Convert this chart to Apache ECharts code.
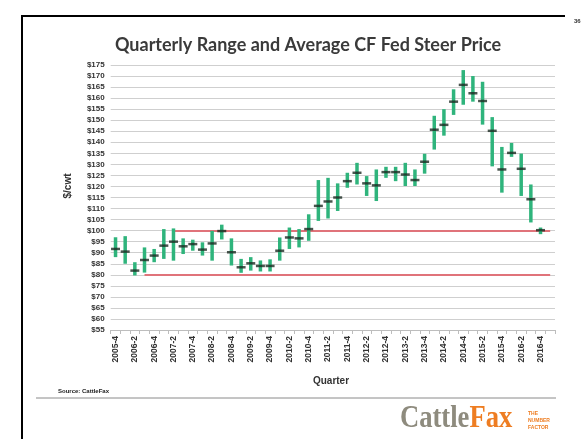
<!DOCTYPE html>
<html>
<head>
<meta charset="utf-8">
<script src="https://cdn.jsdelivr.net/npm/echarts@6/dist/echarts.min.js"></script>
<style>html,body{margin:0;padding:0;background:#fff;}#c{width:587px;height:439px;}</style>
</head>
<body>
<div id="c"></div>
<script>
const quarters = ['2005-4','2006-1','2006-2','2006-3','2006-4','2007-1','2007-2','2007-3','2007-4',
  '2008-1','2008-2','2008-3','2008-4','2009-1','2009-2','2009-3','2009-4','2010-1','2010-2','2010-3','2010-4',
  '2011-1','2011-2','2011-3','2011-4','2012-1','2012-2','2012-3','2012-4','2013-1','2013-2','2013-3','2013-4',
  '2014-1','2014-2','2014-3','2014-4','2015-1','2015-2','2015-3','2015-4','2016-1','2016-2','2016-3','2016-4','2017-1'];
const highs = [97,97.5,85.7,92.4,91.7,100.7,101,96.5,95.9,94.7,99.9,102.7,96.5,87.2,88,86.5,87,96.9,101.4,100.7,107.4,
  122.9,123.9,121.4,126.2,130.7,124.7,127.7,128.9,128.9,130.7,127.7,134.8,152,155,164,172.7,170,167.4,151.4,137.9,139.7,134.9,120.9,101.4];
const lows = [88,85,79.7,81,85.7,87.2,86.4,89.4,90.9,88.7,86.4,96,84.2,80.9,81.9,81.5,81.5,86.4,91.7,92.4,95.4,
  104.4,105.5,108.9,119.4,120.9,115.7,113.4,123.9,122.4,120.2,120.2,125.8,136.7,143,152.4,157,158.4,148,129.1,117.2,133.4,115.7,103.7,98.4];
const avgs = [91.7,90.5,81.9,86.7,88.7,93.2,95,92.9,93.9,91.4,94.2,99.8,90.2,83.4,85.2,84,84,90.9,96.9,96.5,100.7,
  111.2,113.2,115,122.4,126.2,121.4,120.5,126.5,126.5,125.4,122.9,131.2,145.7,147.9,158.4,166,162.2,158.7,145.2,127.7,135.2,128,114.2,100.2];
const refLines = [ {start: '2007-2', end: '2017-1', value: 100}, {start: '2006-3', end: '2017-1', value: 80} ];

const chart = echarts.init(document.getElementById('c'), null, {renderer: 'canvas'});
const green = '#2fb47c';
const lblFont = '"Liberation Sans", Arial, sans-serif';
chart.setOption({
  animation: false,
  backgroundColor: '#ffffff',
  title: {
    text: 'Quarterly Range and Average CF Fed Steer Price',
    left: 303, top: 31, textAlign: 'center',
    textStyle: {fontFamily: 'Lato', fontWeight: 'bold', fontSize: 18, color: '#3a3a3a'}
  },
  grid: {left: 110.7, right: 32, top: 65, bottom: 109},
  xAxis: {
    type: 'category', data: quarters, boundaryGap: true,
    axisLine: {lineStyle: {color: '#bdbdbd', width: 1}},
    axisTick: {show: true, interval: 0, length: 4, lineStyle: {color: '#bdbdbd'}},
    axisLabel: {interval: 1, rotate: 90, fontSize: 8.5, fontWeight: 'bold', color: '#333', fontFamily: lblFont, margin: 6},
    splitLine: {show: false}
  },
  yAxis: {
    type: 'value', min: 55, max: 175, interval: 5,
    axisLine: {show: false}, axisTick: {show: false},
    axisLabel: {formatter: v => '$' + v, fontSize: 8, fontWeight: 'bold', color: '#333', fontFamily: lblFont, margin: 6},
    splitLine: {lineStyle: {color: '#cfcfcf', width: 1}}
  },
  series: [
    {type: 'bar', stack: 'r', data: lows, barWidth: 3.5, itemStyle: {color: 'rgba(0,0,0,0)'}, silent: true},
    {type: 'bar', stack: 'r', data: highs.map((h, i) => +(h - lows[i]).toFixed(2)), barWidth: 3.5,
     itemStyle: {color: green}},
    {type: 'scatter', data: avgs, symbol: 'rect', symbolSize: [9, 2.5], itemStyle: {color: '#1c2a22'}, z: 5,
     markLine: {
       symbol: 'none', silent: true, label: {show: false}, z: 1,
       lineStyle: {color: '#e0737a', width: 2, type: 'solid'},
       data: refLines.map(r => [{coord: [r.start, r.value]}, {coord: [r.end, r.value]}])
     }}
  ],
  graphic: [
    {type: 'line', shape: {x1: 22, y1: 16, x2: 22, y2: 439}, style: {stroke: '#000', lineWidth: 2}},
    {type: 'line', shape: {x1: 21, y1: 16, x2: 565, y2: 16}, style: {stroke: '#000', lineWidth: 2}},
    {type: 'text', left: 574, top: 18, style: {text: '36', font: 'bold 6px ' + lblFont, fill: '#333'}},
    {type: 'text', x: 68, y: 186, rotation: Math.PI / 2,
     style: {text: '$/cwt', font: 'bold 10px ' + lblFont, fill: '#333', textAlign: 'center', textVerticalAlign: 'middle'}},
    {type: 'text', x: 331, y: 381, style: {text: 'Quarter', font: 'bold 10px ' + lblFont, fill: '#333', textAlign: 'center', textVerticalAlign: 'middle'}},
    {type: 'text', x: 58, y: 391, style: {text: 'Source: CattleFax', font: 'bold 6px ' + lblFont, fill: '#222', textVerticalAlign: 'middle'}},
    {type: 'line', shape: {x1: 36, y1: 398, x2: 556, y2: 398}, style: {stroke: '#8a8a8a', lineWidth: 1}},
    {type: 'text', x: 400, y: 419, scaleX: 0.95, scaleY: 1.15,
     style: {text: '{a|Cattle}{b|Fax}', textVerticalAlign: 'middle',
       rich: {a: {font: 'bold 28px "Liberation Serif", serif', fill: '#8e8b7e', color: '#8e8b7e'},
              b: {font: 'bold 28px "Liberation Serif", serif', fill: '#ee7d22', color: '#ee7d22'}}}},
    {type: 'text', x: 528, y: 410, style: {text: 'THE\nNUMBER\nFACTOR', font: 'bold 5px ' + lblFont, fill: '#ee7d22', lineHeight: 7}}
  ]
});
</script>
</body>
</html>
